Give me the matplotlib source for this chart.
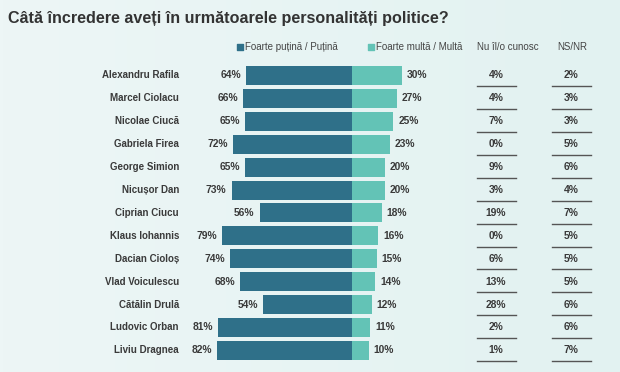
import matplotlib
matplotlib.use("Agg")
import matplotlib.pyplot as plt
import numpy as np
from matplotlib.colors import LinearSegmentedColormap

plt.rcParams['font.family'] = ['Liberation Sans', 'DejaVu Sans']

names = ["Alexandru Rafila", "Marcel Ciolacu", "Nicolae Ciucă", "Gabriela Firea",
         "George Simion", "Nicușor Dan", "Ciprian Ciucu", "Klaus Iohannis",
         "Dacian Cioloș", "Vlad Voiculescu", "Cătălin Drulă", "Ludovic Orban",
         "Liviu Dragnea"]
low_trust = [64, 66, 65, 72, 65, 73, 56, 79, 74, 68, 54, 81, 82]
high_trust = [30, 27, 25, 23, 20, 20, 18, 16, 15, 14, 12, 11, 10]
dont_know = [4, 4, 7, 0, 9, 3, 19, 0, 6, 13, 28, 2, 1]
no_answer = [2, 3, 3, 5, 6, 4, 7, 5, 5, 5, 6, 6, 7]

title = "Câtă încredere aveți în următoarele personalități politice?"
legend_low = "Foarte puțină / Puțină"
legend_high = "Foarte multă / Multă"
col3_header = "Nu îl/o cunosc"
col4_header = "NS/NR"

dark = "#2f7089"
light = "#63c3b6"
text_col = "#3a3a3a"
bg = "#e7f3f3"

W, H = 620, 372
fig = plt.figure(figsize=(W / 100, H / 100), dpi=100)
fig.patch.set_facecolor(bg)

# subtle background gradient
bgax = fig.add_axes([0, 0, 1, 1], zorder=-10)
gx = np.linspace(0, 1, 200)
grad = np.tile(gx, (50, 1))
cmap = LinearSegmentedColormap.from_list("bg", ["#edf6f6", "#e2f2f1"])
bgax.imshow(grad, aspect="auto", cmap=cmap, extent=[0, 1, 0, 1])
bgax.axis("off")

px_per = 1.65        # pixels per percent
cx = 352             # center pixel
row0 = 75.5
rstep = 22.9
x0 = -cx / px_per
x1 = (W - cx) / px_per
y_top = -row0 / rstep
y_bot = (H - row0) / rstep

ax = fig.add_axes([0, 0, 1, 1])
ax.set_xlim(x0, x1)
ax.set_ylim(y_bot, y_top)
ax.axis("off")
ax.patch.set_alpha(0)

def px(x):
    return (x - cx) / px_per

def py(y):
    return (y - row0) / rstep

rows = np.arange(len(names))
bh = 19 / rstep
ax.barh(rows, [-v for v in low_trust], height=bh, color=dark, left=0)
ax.barh(rows, high_trust, height=bh, color=light, left=0)

fs = 7.0
fsv = 7.4
for i, n in enumerate(names):
    ax.text(px(179), i, n, ha="right", va="center", fontsize=fs,
            fontweight="bold", color=text_col)
    ax.text(-low_trust[i] - 3.0, i, f"{low_trust[i]}%", ha="right", va="center",
            fontsize=fsv, fontweight="bold", color=text_col)
    ax.text(high_trust[i] + 3.0, i, f"{high_trust[i]}%", ha="left", va="center",
            fontsize=fsv, fontweight="bold", color=text_col)
    ax.text(px(496), i, f"{dont_know[i]}%", ha="center", va="center",
            fontsize=fsv, fontweight="bold", color=text_col)
    ax.text(px(571), i, f"{no_answer[i]}%", ha="center", va="center",
            fontsize=fsv, fontweight="bold", color=text_col)
    ax.plot([px(477), px(516)], [i + 0.47, i + 0.47], color="#555555", lw=1.0)
    ax.plot([px(552), px(591)], [i + 0.47, i + 0.47], color="#555555", lw=1.0)

# headers / legend
hy = py(47)
ax.scatter([px(240)], [hy], marker="s", s=14, color=dark)
ax.text(px(245), hy, legend_low, ha="left", va="center", fontsize=7, color="#444444")
ax.scatter([px(371)], [hy], marker="s", s=14, color=light)
ax.text(px(376), hy, legend_high, ha="left", va="center", fontsize=7, color="#444444")
ax.text(px(508), hy, col3_header, ha="center", va="center", fontsize=7, color="#444444")
ax.text(px(572), hy, col4_header, ha="center", va="center", fontsize=7, color="#444444")

fig.text(8 / W, 1 - 18 / H, title, ha="left", va="center", fontsize=11.6,
         fontweight="bold", color="#333333")

fig.savefig("out.png", dpi=100, facecolor=fig.get_facecolor())
